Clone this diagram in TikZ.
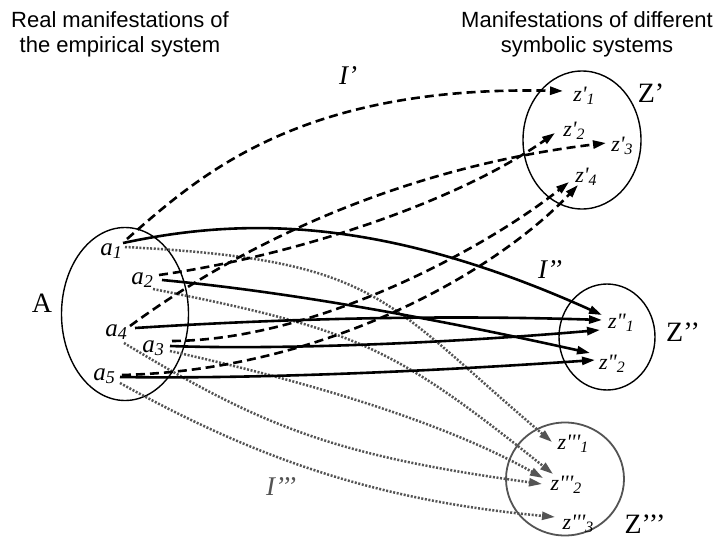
\documentclass[tikz,border=0pt]{standalone}
\usepackage{fontspec}
\newfontfamily\tnr{Liberation Serif}
\newfontfamily\headfont{Liberation Sans}
\usetikzlibrary{arrows.meta,shapes.geometric}
\definecolor{dotgray}{HTML}{545454}
\newcommand\ssub[1]{\raisebox{-0.12em}{\scalebox{0.72}{#1}}}
\tikzset{
  setshape/.style={draw, ellipse, inner sep=0pt, line width=1.4pt},
  head/.style={font=\headfont\fontsize{22}{25}\selectfont, align=center, inner sep=0pt},
  biglab/.style={font=\tnr\fontsize{28}{30}\selectfont, inner sep=0pt},
  ilab/.style={font=\tnr\itshape\fontsize{27}{30}\selectfont, inner sep=0pt},
  alab/.style={font=\tnr\itshape\fontsize{25}{28}\selectfont, inner sep=0pt},
  zlab/.style={font=\tnr\itshape\fontsize{22}{24}\selectfont, inner sep=0pt},
  tipstyle/.style={-{Triangle[length=13pt,width=8pt]}},
  solidmap/.style={tipstyle, line width=2.6pt},
  dashmap/.style={tipstyle, line width=2.6pt, dash pattern=on 9pt off 5pt},
  dotmap/.style={tipstyle, line width=2.5pt, dash pattern=on 2pt off 1.6pt, draw=dotgray, fill=none},
}
\begin{document}
\begin{tikzpicture}[x=1pt,y=-1pt]
\useasboundingbox[fill=white] (0,0) rectangle (720,538);

% headings
\node[head] (h1) at (120,34) {Real manifestations of\\the empirical system};
\node[head] (h2) at (587,34) {Manifestations of different\\symbolic systems};

% sets
\node[setshape, minimum width=127pt, minimum height=173pt] (A) at (125,314) {};
\node[setshape, minimum width=118pt, minimum height=138pt] (Zp) at (582,140) {};
\node[setshape, minimum width=96pt, minimum height=106pt] (Zpp) at (607,337) {};
\node[setshape, draw=dotgray, line width=1.8pt, minimum width=118pt, minimum height=113pt] (Zppp) at (565,479) {};

% set labels
\node[biglab] (Alab) at (42,303) {A};
\node[biglab] (Zplab) at (651,93) {Z’};
\node[biglab] (Zpplab) at (683,332) {Z’’};
\node[biglab] (Zppplab) at (645,524) {Z’’’};

% mapping labels
\node[ilab] (I1) at (348,76) {I’};
\node[ilab] (I2) at (550,270) {I’’};
\node[ilab, text=dotgray] (I3) at (281,487) {I’’’};

% element labels
\node[alab] (a1) at (111,251) {a\ssub{1}};
\node[alab] (a2) at (142,280) {a\ssub{2}};
\node[alab] (a4) at (116,332) {a\ssub{4}};
\node[alab] (a3) at (153,348) {a\ssub{3}};
\node[alab] (a5) at (104,376) {a\ssub{5}};

\node[zlab] (zp1) at (584,96) {z'\ssub{1}};
\node[zlab] (zp2) at (574,131) {z'\ssub{2}};
\node[zlab] (zp3) at (622,146) {z'\ssub{3}};
\node[zlab] (zp4) at (586,177) {z'\ssub{4}};
\node[zlab] (zpp1) at (621,323) {z"\ssub{1}};
\node[zlab] (zpp2) at (612,364) {z"\ssub{2}};
\node[zlab] (zppp1) at (573,444) {z'''\ssub{1}};
\node[zlab] (zppp2) at (566,485) {z'''\ssub{2}};
\node[zlab] (zppp3) at (578,524) {z'''\ssub{3}};

% connector end points
\coordinate (a1d) at (127,239);
\coordinate (a1s) at (123,243);
\coordinate (a1t) at (125,247);
\coordinate (a2d) at (159,275);
\coordinate (a2s) at (162,280);
\coordinate (a2t) at (153,289);
\coordinate (a4d) at (130,326);
\coordinate (a4s) at (135,328);
\coordinate (a4t) at (124,343);
\coordinate (a3d) at (172,341);
\coordinate (a3s) at (170,346);
\coordinate (a3t) at (170,351);
\coordinate (a5d) at (122,375);
\coordinate (a5s) at (120,377);
\coordinate (a5t) at (120,383);

\coordinate (z1a) at (563,91);
\coordinate (z2a) at (555,133);
\coordinate (z3a) at (606,143);
\coordinate (z4a) at (569,182);
\coordinate (z4b) at (578,185);
\coordinate (y1a) at (602,315);
\coordinate (y1b) at (602,320);
\coordinate (y1c) at (600,330);
\coordinate (y2a) at (590,353);
\coordinate (y2b) at (595,360);
\coordinate (x1a) at (552,442);
\coordinate (x2a) at (553,474);
\coordinate (x2b) at (543,478);
\coordinate (x2c) at (542,484);
\coordinate (x3a) at (555,517);

% I''' dotted
\draw[dotmap] (a1t) .. controls (380,260) and (382,298) .. (x1a);
\draw[dotmap] (a2t) .. controls (358,330) and (393,346) .. (x2a);
\draw[dotmap] (a3t) .. controls (300,380) and (440,420) .. (x2b);
\draw[dotmap] (a4t) .. controls (260,425) and (330,455) .. (x2c);
\draw[dotmap] (a5t) .. controls (250,455) and (370,500) .. (x3a);

% I'' solid
\draw[solidmap] (a1s) .. controls (240,218) and (380,215) .. (y1a);
\draw[solidmap] (a2s) .. controls (300,293) and (450,322) .. (y2a);
\draw[solidmap] (a4s) .. controls (290,318) and (450,315) .. (y1b);
\draw[solidmap] (a3s) .. controls (280,350) and (450,343) .. (y1c);
\draw[solidmap] (a5s) .. controls (250,379) and (420,372) .. (y2b);

% I' dashed
\draw[dashmap] (a1d) .. controls (200,175) and (300,85) .. (z1a);
\draw[dashmap] (a2d) .. controls (300,255) and (460,200) .. (z2a);
\draw[dashmap] (a4d) .. controls (220,260) and (380,170) .. (z3a);
\draw[dashmap] (a3d) .. controls (320,340) and (490,245) .. (z4a);
\draw[dashmap] (a5d) .. controls (330,370) and (500,268) .. (z4b);
\end{tikzpicture}
\end{document}
